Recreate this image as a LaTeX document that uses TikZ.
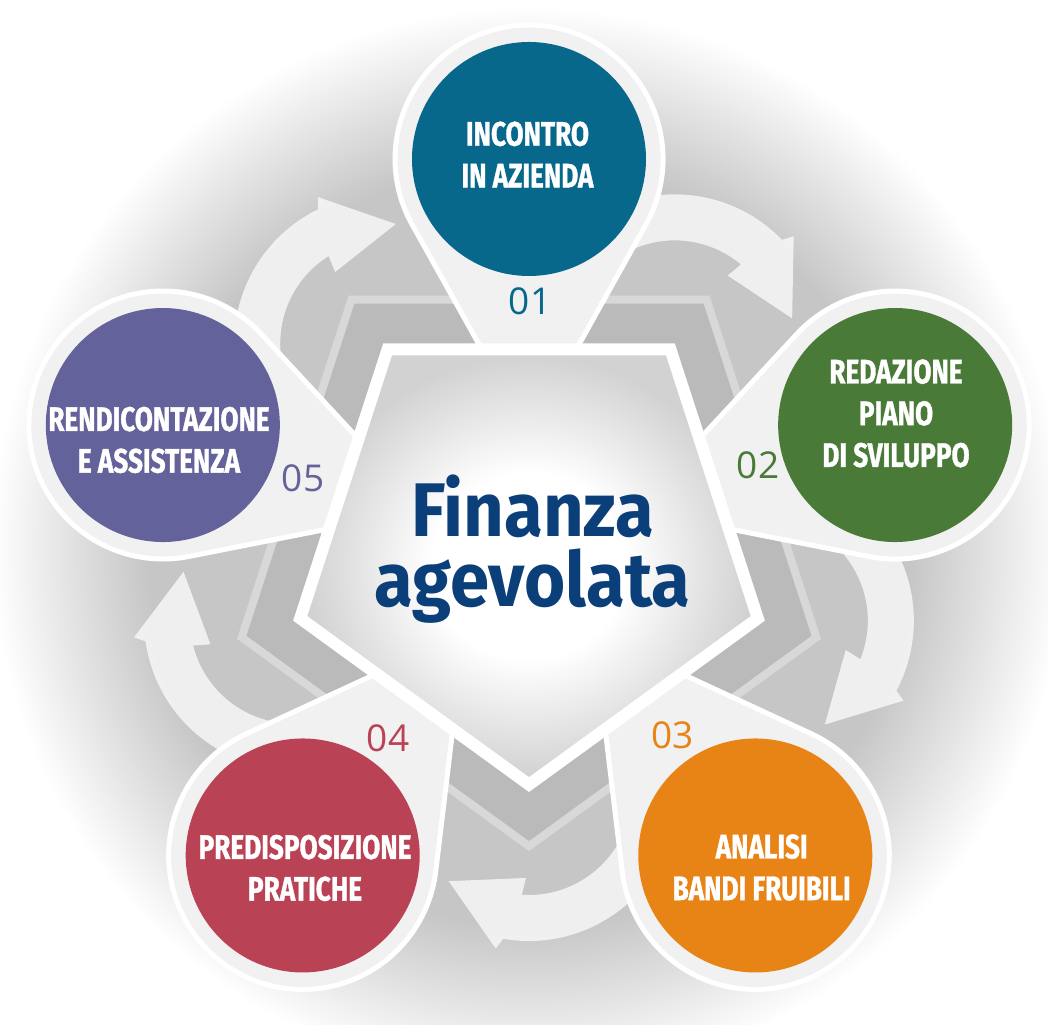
\documentclass[tikz,border=0pt]{standalone}
\usepackage{fontspec}
\newfontfamily\pinfont[FakeStretch=0.77, FakeBold=1]{Fira Sans}
\newfontfamily\titlefont[FakeStretch=0.93]{Fira Sans}
\newfontfamily\numfont{Open Sans}

\definecolor{stepteal}{HTML}{07688C}
\definecolor{stepgreen}{HTML}{497A37}
\definecolor{steporange}{HTML}{E88316}
\definecolor{stepred}{HTML}{BA4255}
\definecolor{steppurple}{HTML}{64629A}
\definecolor{titleblue}{HTML}{0B3F7A}
\definecolor{hazegray}{HTML}{C6C6C6}
\definecolor{hazelight}{HTML}{DEDEDE}
\definecolor{rimgray}{HTML}{D8D8D8}
\definecolor{ringgray}{HTML}{BABABA}
\definecolor{coreedge}{HTML}{D2D2D2}
\definecolor{pinfill}{HTML}{F1F1F1}

% radial shadings: 25bp is the rim of the shaded path
\pgfdeclareradialshading{haze}{\pgfpoint{0bp}{0bp}}{color(0bp)=(hazegray); color(17bp)=(hazegray); color(20bp)=(hazelight); color(24bp)=(white); color(50bp)=(white)}
\pgfdeclareradialshading{corefill}{\pgfpoint{0bp}{0bp}}{color(0bp)=(white); color(11bp)=(white); color(25bp)=(coreedge); color(50bp)=(coreedge)}

\begin{document}
\begin{tikzpicture}[
  x=1pt, y=1pt,
  pinbody/.style = {fill=pinfill, draw=white, line width=5pt},
  cyclearrow/.style = {fill=white, opacity=0.72},
  stepdot/.style = {circle, minimum size=234pt, inner sep=0pt},
  steplabel/.style = {text=white, align=center, inner sep=0pt,
    font=\pinfont\bfseries\fontsize{34}{41.7}\selectfont},
  stepnum/.style = {inner sep=0pt, font=\numfont\fontsize{37}{40}\selectfont},
  title/.style = {text=titleblue, align=center, inner sep=0pt,
    font=\titlefont\bfseries\fontsize{76}{70.7}\selectfont}
]

% Page 1048 x 1024, origin at the centre of the pentagon
\useasboundingbox (-529,-480) rectangle (519,544);
\clip (-529,-480) rectangle (519,544);
\fill[white] (-529,-480) rectangle (519,544);

% Grey haze behind everything
\shade[shading=haze] (0,0) circle[radius=560];

% Back pentagon: light rim, darker ring
\fill[rimgray] (-90:307) -- (-18:307) -- (54:307) -- (126:307) -- (198:307) -- cycle;
\fill[ringgray] (-90:297) -- (-18:297) -- (54:297) -- (126:297) -- (198:297) -- cycle;

% Cycle arrows, one round each corner of the core
\fill[cyclearrow, shift={(126:248)}]
  (190:149) arc[start angle=190, end angle=116, radius=149] -- (114:160) -- (84:120)
  -- (124:86) -- (122:103) arc[start angle=122, end angle=190, radius=103] -- cycle;
\fill[cyclearrow, rotate=-72, shift={(126:248)}]
  (190:149) arc[start angle=190, end angle=116, radius=149] -- (114:160) -- (84:120)
  -- (124:86) -- (122:103) arc[start angle=122, end angle=190, radius=103] -- cycle;
\fill[cyclearrow, rotate=-144, shift={(126:248)}]
  (190:149) arc[start angle=190, end angle=116, radius=149] -- (114:160) -- (84:120)
  -- (124:86) -- (122:103) arc[start angle=122, end angle=190, radius=103] -- cycle;
\fill[cyclearrow, rotate=-216, shift={(126:248)}]
  (190:149) arc[start angle=190, end angle=116, radius=149] -- (114:160) -- (84:120)
  -- (124:86) -- (122:103) arc[start angle=122, end angle=190, radius=103] -- cycle;
\fill[cyclearrow, rotate=-288, shift={(126:248)}]
  (190:149) arc[start angle=190, end angle=116, radius=149] -- (114:160) -- (84:120)
  -- (124:86) -- (122:103) arc[start angle=122, end angle=190, radius=103] -- cycle;

% Pins (tail points to the centre)
\filldraw[pinbody, rotate=90] (110,0) -- (319.6,-117) arc[start angle=240.8, end angle=479.2, radius=134] -- cycle;
\filldraw[pinbody, rotate=18] (110,0) -- (319.6,-117) arc[start angle=240.8, end angle=479.2, radius=134] -- cycle;
\filldraw[pinbody, rotate=-54] (110,0) -- (319.6,-117) arc[start angle=240.8, end angle=479.2, radius=134] -- cycle;
\filldraw[pinbody, rotate=-126] (110,0) -- (319.6,-117) arc[start angle=240.8, end angle=479.2, radius=134] -- cycle;
\filldraw[pinbody, rotate=162] (110,0) -- (319.6,-117) arc[start angle=240.8, end angle=479.2, radius=134] -- cycle;

% Core pentagon: white border, soft grey inside
\fill[white] (-90:248) -- (-18:248) -- (54:248) -- (126:248) -- (198:248) -- cycle;
\shade[shading=corefill] (-90:233) -- (-18:233) -- (54:233) -- (126:233) -- (198:233) -- cycle;

% Step circles
\node[stepdot, fill=stepteal] (incontro) at (90:385) {};
\node[stepdot, fill=stepgreen] (redazione) at (18:385) {};
\node[stepdot, fill=steporange] (analisi) at (-54:385) {};
\node[stepdot, fill=stepred] (pratiche) at (-126:385) {};
\node[stepdot, fill=steppurple] (rendiconto) at (162:385) {};

% Step texts
\node[steplabel] (incontro-txt) at (-1.5,389.5) {INCONTRO\\IN AZIENDA};
\node[steplabel] (redazione-txt) at (367,130.6) {REDAZIONE\\PIANO\\DI SVILUPPO};
\node[steplabel] (analisi-txt) at (232.7,-323.5) {ANALISI\\BANDI FRUIBILI};
\node[steplabel] (pratiche-txt) at (-224,-324) {PREDISPOSIZIONE\\PRATICHE};
\node[steplabel] (rendiconto-txt) at (-370,104) {RENDICONTAZIONE\\E ASSISTENZA};

% Step numbers
\node[stepnum, text=stepteal] (num1) at (1,242.5) {01};
\node[stepnum, text=stepgreen] (num2) at (229,79) {02};
\node[stepnum, text=steporange] (num3) at (143.5,-191) {03};
\node[stepnum, text=stepred] (num4) at (-141,-194.5) {04};
\node[stepnum, text=steppurple] (num5) at (-226,65.5) {05};

% Title
\node[title] (finanza) at (3.5,-5) {Finanza\\agevolata};

\end{tikzpicture}
\end{document}
